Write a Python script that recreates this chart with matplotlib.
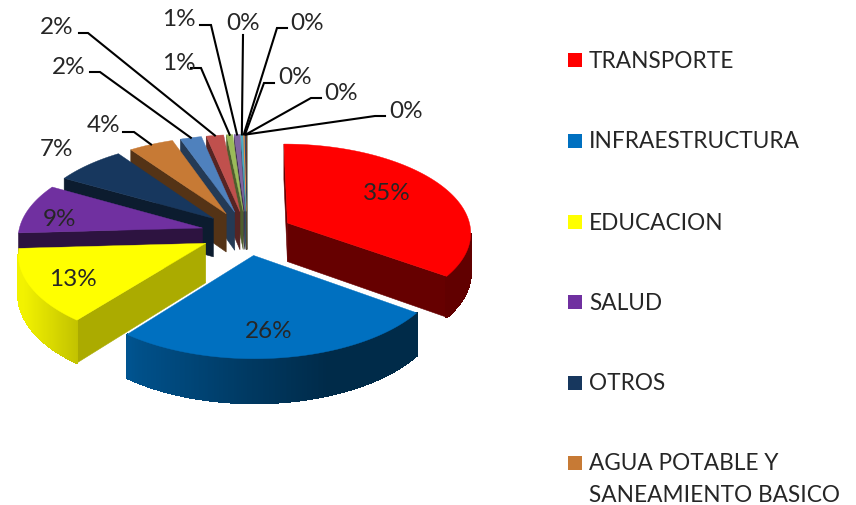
import matplotlib
matplotlib.use("Agg")
import matplotlib.pyplot as plt
import numpy as np
from matplotlib.patches import Polygon, Rectangle

plt.rcParams["font.family"] = ["Lato", "DejaVu Sans"]

categories = ["TRANSPORTE", "INFRAESTRUCTURA", "EDUCACION", "SALUD", "OTROS",
              "AGUA POTABLE Y\nSANEAMIENTO BASICO"]
values = [34.9, 25.8, 13.45, 9.05, 7, 4.4, 2.1, 1.7, 0.6, 0.55, 0.2, 0.1, 0.1, 0.05, 0.05]
colors = ["#ff0000", "#0070c0", "#ffff00", "#7030a0", "#17375e", "#c77a35", "#4f81bd", "#c0504d",
          "#9bbb59", "#8064a2", "#4bacc6", "#f79646", "#2c4d75", "#772c2a", "#5f7530"]
wall_shade = [0.4, 0.4, 0.67, 0.4, 0.5, 0.42, 0.45, 0.45, 0.5, 0.5, 0.5, 0.5, 0.5, 0.5, 0.5]

# label position (pixels) for the ones sitting on the slices
inner_labels = {0: (387, 194), 1: (269, 332), 2: (73, 279), 3: (60, 220)}
# label position, then elbow points of the leader line
outer_labels = {
    4: ((57, 149), []),
    5: ((104, 126), [(123, 132), (134, 132)]),
    6: ((69, 67), [(90, 72), (100, 72)]),
    7: ((57, 28), [(79, 33), (88, 33)]),
    8: ((179, 64), [(191, 68), (201, 68)]),
    9: ((179, 20), [(200, 25), (211, 25)]),
    10: ((243, 24), [(243, 35)]),
    11: ((307, 24), [(287, 28), (277, 28)]),
    12: ((295, 77), [(274, 83), (264, 83)]),
    13: ((341, 94), [(321, 98), (311, 98)]),
    14: ((406, 112), [(385, 116), (375, 116)]),
}

CX, CY = 247, 233
RX, RY = 184, 88.5
PERSP = 0.0975
EXPLODE = 0.25
DEPTH = 39
TEXT = "#262626"


def project(u, v):
    s = 1 / (1 + PERSP * v)
    return CX + RX * u * s, CY - RY * v * s, s


def shade(color, f):
    return tuple(np.array(matplotlib.colors.to_rgb(color)) * f)


fig = plt.figure(figsize=(8.56, 5.05), dpi=100)
ax = fig.add_axes([0, 0, 1, 1])
ax.set_xlim(0, 856)
ax.set_ylim(505, 0)
ax.axis("off")

edges = np.concatenate([[0], np.cumsum(values)]) / sum(values) * 2 * np.pi
arc_mid = {}


def draw_slice(i):
    a0, a1 = edges[i], edges[i + 1]
    mid = (a0 + a1) / 2
    ou, ov = EXPLODE * np.sin(mid), EXPLODE * np.cos(mid)
    angles = np.linspace(a0, a1, max(int(np.degrees(a1 - a0)) * 2, 4))
    arc = np.array([project(ou + np.sin(a), ov + np.cos(a)) for a in angles])
    tx, ty, ts = project(ou, ov)
    mx, my, _ = project(ou + np.sin(mid), ov + np.cos(mid))
    arc_mid[i] = (mx, my)

    # radial walls, only those with the slice top above them
    for p in (arc[0], arc[-1]):
        line_y = ty + (mx - tx) * (p[1] - ty) / (p[0] - tx) if abs(p[0] - tx) > 1e-6 else my + 1
        if my < line_y:
            wall = [(tx, ty), (p[0], p[1]), (p[0], p[1] + DEPTH * p[2]), (tx, ty + DEPTH * ts)]
            c = shade(colors[i], wall_shade[i])
            ax.add_patch(Polygon(wall, closed=True, facecolor=c, edgecolor=c, lw=0.4))

    # outer wall, built from thin quads so it gets a left to right gradient
    for j in range(len(arc) - 1):
        p, q = arc[j], arc[j + 1]
        if q[0] < p[0]:
            u = ((p[0] + q[0]) / 2 - CX) / RX - ou
            c = shade(colors[i], np.interp(u, [-1, -0.64, 0, 0.4, 1], [0.95, 0.72, 0.5, 0.38, 0.38]))
            quad = [p[:2], q[:2], (q[0], q[1] + DEPTH * q[2]), (p[0], p[1] + DEPTH * p[2])]
            # no antialiasing here, it leaves light seams between the quads
            ax.add_patch(Polygon(quad, closed=True, facecolor=c, edgecolor=c, lw=1.0, antialiased=False))

    top = [(tx, ty)] + [tuple(a[:2]) for a in arc]
    ax.add_patch(Polygon(top, closed=True, facecolor=colors[i], edgecolor=colors[i], lw=0.3))


# back slices first, the big front ones last
for i in list(range(len(values) - 1, 1, -1)) + [0, 1]:
    draw_slice(i)

for i, pos in inner_labels.items():
    ax.text(pos[0], pos[1], f"{values[i]:.0f}%", fontsize=17.5, color=TEXT, ha="center", va="center")

for i, (pos, elbow) in outer_labels.items():
    ax.text(pos[0], pos[1], f"{values[i]:.0f}%", fontsize=17.5, color=TEXT, ha="center", va="center")
    if elbow:
        pts = elbow + [arc_mid[i]]
        ax.plot([p[0] for p in pts], [p[1] for p in pts], color="black", lw=1.5, solid_joinstyle="miter")

# legend
legend_y = [60, 141, 222, 302, 383, 463]
for name, c, y in zip(categories, colors, legend_y):
    ax.add_patch(Rectangle((568, y - 7), 14, 14, facecolor=c, edgecolor="none"))
    ax.text(589, y + 1, name.split("\n")[0], fontsize=16.3, color=TEXT, ha="left", va="center")
    if "\n" in name:
        ax.text(589, y + 33, name.split("\n")[1], fontsize=16.3, color=TEXT, ha="left", va="center")

fig.savefig("out.png", dpi=100)
